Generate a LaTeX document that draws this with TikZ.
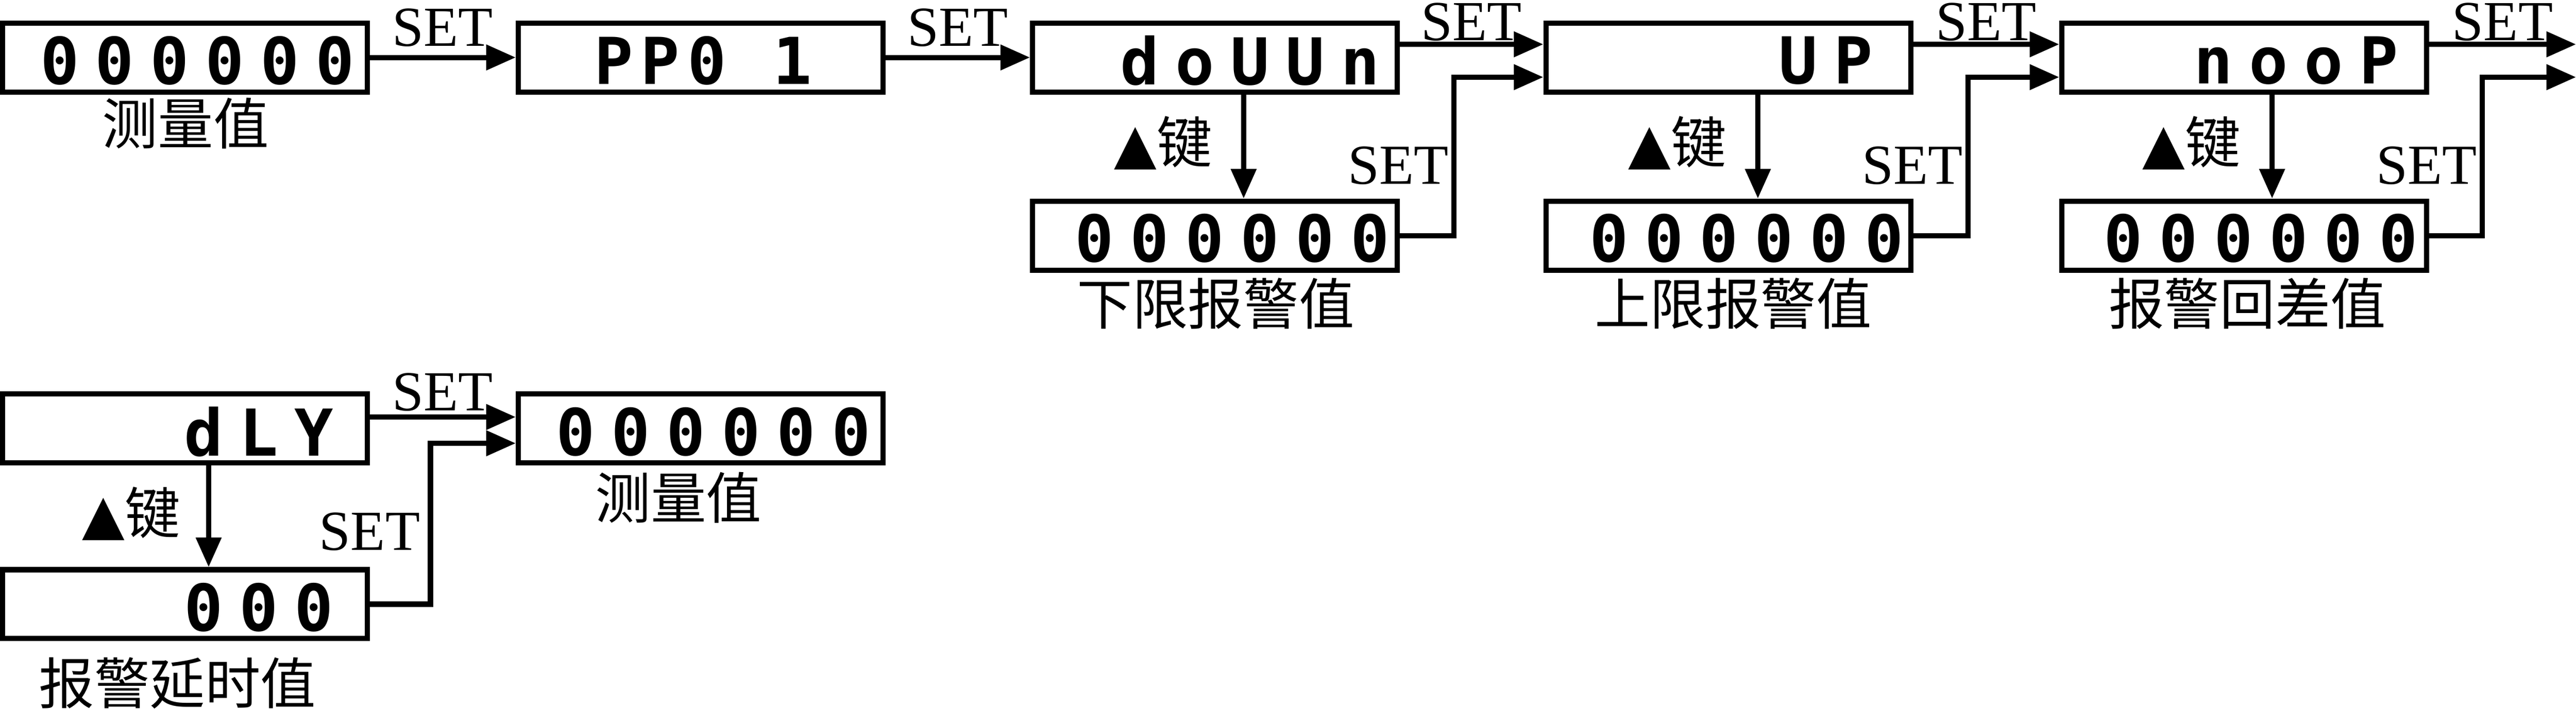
\documentclass[tikz,border=0pt]{standalone}
\usepackage{fontspec}
\setmainfont{Liberation Serif}
\newfontfamily\cjk{Noto Sans CJK SC}
\newfontfamily\segf[LetterSpace=25]{DejaVu Sans Mono Bold}
\newfontfamily\segn[LetterSpace=12]{DejaVu Sans Mono Bold}
\newfontfamily\symf{DejaVu Sans}
\usetikzlibrary{arrows.meta}
\tikzset{
 disp/.style={draw,line width=4.5pt,minimum width=11.1cm,minimum height=2.1cm,inner sep=0pt},
 seg/.style={font=\fontsize{56}{56}\segf,inner sep=0pt},
 segb/.style={font=\fontsize{56}{56}\segn,inner sep=0pt},
 lab/.style={font=\fontsize{48}{48}\cjk,inner sep=0pt},
 setl/.style={font=\fontsize{49}{49}\selectfont,inner sep=0pt},
 conn/.style={line width=4.5pt,-{Triangle[length=0.9cm,width=0.75cm]}},
}
\begin{document}
\begin{tikzpicture}[x=0.05cm,y=-0.05cm]
\useasboundingbox (0,0) rectangle (1568,433);
% row 1
\node[disp] (b1) at (112.5,35) {};
\node[disp] (b2) at (426.5,35) {};
\node[disp] (b3) at (739.5,35) {};
\node[disp] (b4) at (1052,35) {};
\node[disp] (b5) at (1366,35) {};
\node[disp] (s3) at (739.5,143.5) {};
\node[disp] (s4) at (1052,143.5) {};
\node[disp] (s5) at (1366,143.5) {};
\node[seg,anchor=east] (t1) at (216,37) {000000};
\node[segb] (t2) at (428,37) {PP0 1};
\node[seg,anchor=east] (t3) at (840,37) {doUUn};
\node[seg,anchor=east] (t4) at (1140,37) {UP};
\node[seg,anchor=east] (t5) at (1460,37) {nooP};
\node[seg,anchor=east] (u3) at (846,145) {000000};
\node[seg,anchor=east] (u4) at (1159,145) {000000};
\node[seg,anchor=east] (u5) at (1472,145) {000000};
\node[lab] (l1) at (113,75) {测量值};
\node[lab] (l3) at (740,185) {下限报警值};
\node[lab] (l4) at (1055,185) {上限报警值};
\node[lab] (l5) at (1368,185) {报警回差值};
\coordinate (e5a) at (1568,27);
\coordinate (e5b) at (1568,47);
\draw[conn] (b1.east |- 0,35) -- (b2.west |- 0,35) node[setl,midway,above=0.25cm] (k1) {SET};
\draw[conn] (b2.east |- 0,35) -- (b3.west |- 0,35) node[setl,midway,above=0.25cm] (k2) {SET};
\draw[conn] (b3.east |- 0,27) -- (b4.west |- 0,27) node[setl,midway,above=0.02cm] (k3) {SET};
\draw[conn] (b4.east |- 0,27) -- (b5.west |- 0,27) node[setl,midway,above=0.02cm] (k4) {SET};
\draw[conn] (b5.east |- 0,27) -- (e5a) node[setl,midway,above=0.02cm] (k5) {SET};
\draw[conn] (s3.east) -| (885,47) -- (b4.west |- 0,47);
\draw[conn] (s4.east) -| (1198,47) -- (b5.west |- 0,47);
\draw[conn] (s5.east) -| (1511,47) -- (e5b);
\node[setl] (m3) at (851,101) {SET};
\node[setl] (m4) at (1164,101) {SET};
\node[setl] (m5) at (1477,101) {SET};
\draw[conn] (b3.south -| 757,0) -- (s3.north -| 757,0);
\draw[conn] (b4.south -| 1070,0) -- (s4.north -| 1070,0);
\draw[conn] (b5.south -| 1383,0) -- (s5.north -| 1383,0);
\node[lab] (a3) at (708,87) {{\symf ▲}键};
\node[lab] (a4) at (1021,87) {{\symf ▲}键};
\node[lab] (a5) at (1334,87) {{\symf ▲}键};
% row 2
\node[disp] (d1) at (112.5,261) {};
\node[disp] (d2) at (426.5,261) {};
\node[disp] (d3) at (112.5,368) {};
\node[seg,anchor=east] (v1) at (203,263) {dLY};
\node[seg,anchor=east] (v2) at (530,263) {000000};
\node[seg,anchor=east] (v3) at (203,370) {000};
\node[lab] (l6) at (413,303) {测量值};
\node[lab] (l7) at (108,416) {报警延时值};
\draw[conn] (d1.east |- 0,254) -- (d2.west |- 0,254) node[setl,midway,above=0.1cm] (k6) {SET};
\draw[conn] (d3.east) -| (262,270) -- (d2.west |- 0,270);
\node[setl] (m6) at (225,324) {SET};
\draw[conn] (d1.south -| 127,0) -- (d3.north -| 127,0);
\node[lab] (a6) at (80,313) {{\symf ▲}键};
\end{tikzpicture}
\end{document}
